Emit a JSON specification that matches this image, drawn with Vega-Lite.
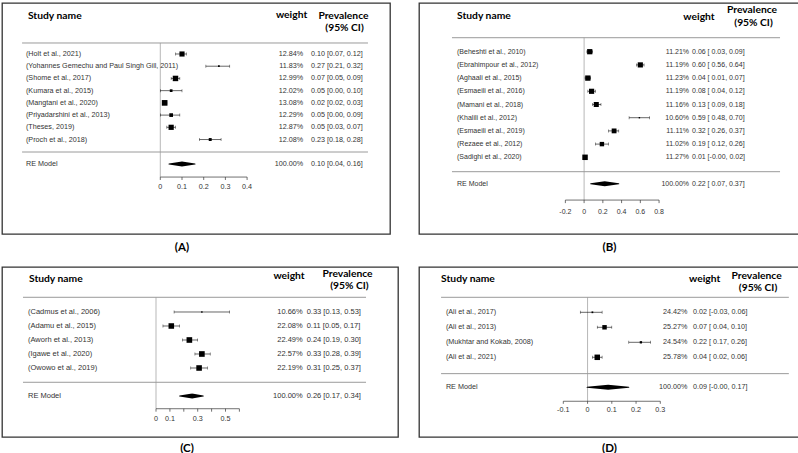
{
"$schema": "https://vega.github.io/schema/vega-lite/v6.json",
"background": "white",
"padding": {"left": 1, "top": 2, "right": 0, "bottom": 0},
"config": {"view": {"stroke": "#333", "strokeWidth": 1.3}, "axis": {"disable": true}},
"spacing": 11,
"vconcat": [
{"hconcat": [
{
"width": 388, "height": 231,
"title": {"text": "(A)", "orient": "bottom", "anchor": "middle", "dx": -14, "offset": 8, "font": "Lato", "fontSize": 11.5, "fontWeight": "bold", "color": "#000"},
"data": {"values": [
{"kind": "study", "row": 1, "study": "(Holt et al., 2021)", "w": 12.84, "weight": "12.84%", "est": 0.10, "lb": 0.07, "ub": 0.12, "ci": "0.10 [0.07, 0.12]"},
{"kind": "study", "row": 2, "study": "(Yohannes Gemechu and Paul Singh Gill, 2011)", "w": 11.83, "weight": "11.83%", "est": 0.27, "lb": 0.21, "ub": 0.32, "ci": "0.27 [0.21, 0.32]"},
{"kind": "study", "row": 3, "study": "(Shome et al., 2017)", "w": 12.99, "weight": "12.99%", "est": 0.07, "lb": 0.05, "ub": 0.09, "ci": "0.07 [0.05, 0.09]"},
{"kind": "study", "row": 4, "study": "(Kumara et al., 2015)", "w": 12.02, "weight": "12.02%", "est": 0.05, "lb": 0.00, "ub": 0.10, "ci": "0.05 [0.00, 0.10]"},
{"kind": "study", "row": 5, "study": "(Mangtani et al., 2020)", "w": 13.08, "weight": "13.08%", "est": 0.02, "lb": 0.02, "ub": 0.03, "ci": "0.02 [0.02, 0.03]"},
{"kind": "study", "row": 6, "study": "(Priyadarshini et al., 2013)", "w": 12.29, "weight": "12.29%", "est": 0.05, "lb": 0.00, "ub": 0.09, "ci": "0.05 [0.00, 0.09]"},
{"kind": "study", "row": 7, "study": "(Theses, 2019)", "w": 12.87, "weight": "12.87%", "est": 0.05, "lb": 0.03, "ub": 0.07, "ci": "0.05 [0.03, 0.07]"},
{"kind": "study", "row": 8, "study": "(Proch et al., 2018)", "w": 12.08, "weight": "12.08%", "est": 0.23, "lb": 0.18, "ub": 0.28, "ci": "0.23 [0.18, 0.28]"},
{"kind": "re", "row": 10, "study": "RE Model", "w": 100, "weight": "100.00%", "est": 0.10, "lb": 0.04, "ub": 0.16, "ci": "0.10 [0.04, 0.16]"}
]},
"resolve": {"scale": {"size": "independent"}},
"layer": [
{"data": {"values": [{"a": 1}]}, "mark": {"type": "rule", "color": "#9a9a9a", "strokeWidth": 1},
 "encoding": {"x": {"datum": -0.637, "type": "quantitative", "scale": {"domain": [-0.7295, 1.0585], "nice": false, "zero": false}, "axis": null},
  "x2": {"datum": 0.957},
  "y": {"datum": 0.10, "type": "quantitative", "scale": {"domain": [-3.173, 15.73], "nice": false, "zero": false, "reverse": true}, "axis": null}}},
{"data": {"values": [{"a": 1}]}, "mark": {"type": "rule", "color": "#9a9a9a", "strokeWidth": 1},
 "encoding": {"x": {"datum": -0.637}, "x2": {"datum": 0.957}, "y": {"datum": 9.02}}},
{"data": {"values": [{"a": 1}]}, "mark": {"type": "rule", "color": "#999999", "strokeWidth": 0.7},
 "encoding": {"x": {"datum": 0}, "y": {"datum": 0.10}, "y2": {"datum": 11.07}}},
{"transform": [{"filter": "datum.kind == 'study'"}], "mark": {"type": "rule", "color": "#000", "strokeWidth": 0.6},
 "encoding": {"x": {"field": "lb", "type": "quantitative"}, "x2": {"field": "ub"}, "y": {"field": "row", "type": "quantitative"}}},
{"transform": [{"filter": "datum.kind == 'study'"}], "mark": {"type": "tick", "orient": "vertical", "size": 3, "thickness": 0.6, "color": "#000"},
 "encoding": {"x": {"field": "lb", "type": "quantitative"}, "y": {"field": "row", "type": "quantitative"}}},
{"transform": [{"filter": "datum.kind == 'study'"}], "mark": {"type": "tick", "orient": "vertical", "size": 3, "thickness": 0.6, "color": "#000"},
 "encoding": {"x": {"field": "ub", "type": "quantitative"}, "y": {"field": "row", "type": "quantitative"}}},
{"transform": [{"filter": "datum.kind == 'study'"}], "mark": {"type": "square", "filled": true, "opacity": 1, "color": "#000"},
 "encoding": {"x": {"field": "est", "type": "quantitative"}, "y": {"field": "row", "type": "quantitative"},
  "size": {"field": "w", "type": "quantitative", "scale": {"domain": [11.83, 13.08], "range": [3, 32], "zero": false}, "legend": null}}},
{"transform": [{"filter": "datum.kind == 're'"}, {"fold": ["lb", "est", "ub"], "as": ["part", "value"]}], "mark": {"type": "trail", "color": "#000"},
 "encoding": {"x": {"field": "value", "type": "quantitative"}, "y": {"field": "row", "type": "quantitative"},
  "size": {"field": "value", "type": "quantitative", "scale": {"domain": [0.04, 0.10, 0.16], "range": [0, 5, 0], "zero": false}, "legend": null}}},
{"mark": {"type": "text", "align": "left", "baseline": "middle", "font": "Liberation Sans", "fontSize": 7.2, "color": "#333"},
 "encoding": {"x": {"datum": -0.619}, "y": {"field": "row", "type": "quantitative"}, "text": {"field": "study"}}},
{"mark": {"type": "text", "align": "right", "baseline": "middle", "font": "Liberation Sans", "fontSize": 7.2, "color": "#333"},
 "encoding": {"x": {"datum": 0.658}, "y": {"field": "row", "type": "quantitative"}, "text": {"field": "weight"}}},
{"mark": {"type": "text", "align": "left", "baseline": "middle", "font": "Liberation Sans", "fontSize": 7.2, "color": "#333"},
 "encoding": {"x": {"datum": 0.694}, "y": {"field": "row", "type": "quantitative"}, "text": {"field": "ci"}}},
{"data": {"values": [{"a": 1}]}, "mark": {"type": "rule", "color": "#333", "strokeWidth": 0.7},
 "encoding": {"x": {"datum": 0}, "x2": {"datum": 0.4}, "y": {"datum": 11.07}}},
{"data": {"values": [{"t": 0, "lab": "0"}, {"t": 0.1, "lab": "0.1"}, {"t": 0.2, "lab": "0.2"}, {"t": 0.3, "lab": "0.3"}, {"t": 0.4, "lab": "0.4"}]},
 "mark": {"type": "rule", "color": "#333", "strokeWidth": 0.7},
 "encoding": {"x": {"field": "t", "type": "quantitative"}, "y": {"datum": 11.07}, "y2": {"datum": 11.31}}},
{"data": {"values": [{"t": 0, "lab": "0"}, {"t": 0.1, "lab": "0.1"}, {"t": 0.2, "lab": "0.2"}, {"t": 0.3, "lab": "0.3"}, {"t": 0.4, "lab": "0.4"}]},
 "mark": {"type": "text", "align": "center", "baseline": "middle", "font": "Liberation Sans", "fontSize": 7.2, "color": "#333"},
 "encoding": {"x": {"field": "t", "type": "quantitative"}, "y": {"datum": 11.88}, "text": {"field": "lab"}}},
{"data": {"values": [{"t": "Study name"}]}, "mark": {"type": "text", "align": "left", "baseline": "middle", "font": "Lato", "fontSize": 10.3, "fontWeight": "bold", "color": "#000"},
 "encoding": {"x": {"datum": -0.610}, "y": {"datum": -2.11}, "text": {"field": "t"}}},
{"data": {"values": [{"t": "weight"}]}, "mark": {"type": "text", "align": "center", "baseline": "middle", "font": "Lato", "fontSize": 10.3, "fontWeight": "bold", "color": "#000"},
 "encoding": {"x": {"datum": 0.605}, "y": {"datum": -2.19}, "text": {"field": "t"}}},
{"data": {"values": [{"t": "Prevalence"}]}, "mark": {"type": "text", "align": "center", "baseline": "middle", "font": "Lato", "fontSize": 10.3, "fontWeight": "bold", "color": "#000"},
 "encoding": {"x": {"datum": 0.844}, "y": {"datum": -2.11}, "text": {"field": "t"}}},
{"data": {"values": [{"t": "(95% CI)"}]}, "mark": {"type": "text", "align": "center", "baseline": "middle", "font": "Lato", "fontSize": 10.3, "fontWeight": "bold", "color": "#000"},
 "encoding": {"x": {"datum": 0.849}, "y": {"datum": -1.13}, "text": {"field": "t"}}}
]
},
{
"width": 381, "height": 231,
"title": {"text": "(B)", "orient": "bottom", "anchor": "middle", "dx": 0, "offset": 8, "font": "Lato", "fontSize": 11.5, "fontWeight": "bold", "color": "#000"},
"data": {"values": [
{"kind": "study", "row": 1, "study": "(Beheshti et al., 2010)", "w": 11.21, "weight": "11.21%", "est": 0.06, "lb": 0.03, "ub": 0.09, "ci": "0.06 [ 0.03, 0.09]"},
{"kind": "study", "row": 2, "study": "(Ebrahimpour et al., 2012)", "w": 11.19, "weight": "11.19%", "est": 0.60, "lb": 0.56, "ub": 0.64, "ci": "0.60 [ 0.56, 0.64]"},
{"kind": "study", "row": 3, "study": "(Aghaali et al., 2015)", "w": 11.23, "weight": "11.23%", "est": 0.04, "lb": 0.01, "ub": 0.07, "ci": "0.04 [ 0.01, 0.07]"},
{"kind": "study", "row": 4, "study": "(Esmaeili et al., 2016)", "w": 11.19, "weight": "11.19%", "est": 0.08, "lb": 0.04, "ub": 0.12, "ci": "0.08 [ 0.04, 0.12]"},
{"kind": "study", "row": 5, "study": "(Mamani et al., 2018)", "w": 11.16, "weight": "11.16%", "est": 0.13, "lb": 0.09, "ub": 0.18, "ci": "0.13 [ 0.09, 0.18]"},
{"kind": "study", "row": 6, "study": "(Khalili et al., 2012)", "w": 10.60, "weight": "10.60%", "est": 0.59, "lb": 0.48, "ub": 0.70, "ci": "0.59 [ 0.48, 0.70]"},
{"kind": "study", "row": 7, "study": "(Esmaeili et al., 2019)", "w": 11.11, "weight": "11.11%", "est": 0.32, "lb": 0.26, "ub": 0.37, "ci": "0.32 [ 0.26, 0.37]"},
{"kind": "study", "row": 8, "study": "(Rezaee et al., 2012)", "w": 11.02, "weight": "11.02%", "est": 0.19, "lb": 0.12, "ub": 0.26, "ci": "0.19 [ 0.12, 0.26]"},
{"kind": "study", "row": 9, "study": "(Sadighi et al., 2020)", "w": 11.27, "weight": "11.27%", "est": 0.01, "lb": -0.002, "ub": 0.02, "ci": "0.01 [-0.00, 0.02]"},
{"kind": "re", "row": 11, "study": "RE Model", "w": 100, "weight": "100.00%", "est": 0.22, "lb": 0.07, "ub": 0.37, "ci": "0.22 [ 0.07, 0.37]"}
]},
"resolve": {"scale": {"size": "independent"}},
"layer": [
{"data": {"values": [{"a": 1}]}, "mark": {"type": "rule", "color": "#9a9a9a", "strokeWidth": 1},
 "encoding": {"x": {"datum": -1.410, "type": "quantitative", "scale": {"domain": [-1.762, 2.304], "nice": false, "zero": false}, "axis": null},
  "x2": {"datum": 2.091},
  "y": {"datum": -0.06, "type": "quantitative", "scale": {"domain": [-2.689, 14.81], "nice": false, "zero": false, "reverse": true}, "axis": null}}},
{"data": {"values": [{"a": 1}]}, "mark": {"type": "rule", "color": "#9a9a9a", "strokeWidth": 1},
 "encoding": {"x": {"datum": -1.410}, "x2": {"datum": 2.091}, "y": {"datum": 10.09}}},
{"data": {"values": [{"a": 1}]}, "mark": {"type": "rule", "color": "#999999", "strokeWidth": 0.7},
 "encoding": {"x": {"datum": 0}, "y": {"datum": -0.06}, "y2": {"datum": 12.24}}},
{"transform": [{"filter": "datum.kind == 'study'"}], "mark": {"type": "rule", "color": "#000", "strokeWidth": 0.6},
 "encoding": {"x": {"field": "lb", "type": "quantitative"}, "x2": {"field": "ub"}, "y": {"field": "row", "type": "quantitative"}}},
{"transform": [{"filter": "datum.kind == 'study'"}], "mark": {"type": "tick", "orient": "vertical", "size": 3, "thickness": 0.6, "color": "#000"},
 "encoding": {"x": {"field": "lb", "type": "quantitative"}, "y": {"field": "row", "type": "quantitative"}}},
{"transform": [{"filter": "datum.kind == 'study'"}], "mark": {"type": "tick", "orient": "vertical", "size": 3, "thickness": 0.6, "color": "#000"},
 "encoding": {"x": {"field": "ub", "type": "quantitative"}, "y": {"field": "row", "type": "quantitative"}}},
{"transform": [{"filter": "datum.kind == 'study'"}], "mark": {"type": "square", "filled": true, "opacity": 1, "color": "#000"},
 "encoding": {"x": {"field": "est", "type": "quantitative"}, "y": {"field": "row", "type": "quantitative"},
  "size": {"field": "w", "type": "quantitative", "scale": {"domain": [10.60, 11.27], "range": [2, 30], "zero": false}, "legend": null}}},
{"transform": [{"filter": "datum.kind == 're'"}, {"fold": ["lb", "est", "ub"], "as": ["part", "value"]}], "mark": {"type": "trail", "color": "#000"},
 "encoding": {"x": {"field": "value", "type": "quantitative"}, "y": {"field": "row", "type": "quantitative"},
  "size": {"field": "value", "type": "quantitative", "scale": {"domain": [0.07, 0.22, 0.37], "range": [0, 5, 0], "zero": false}, "legend": null}}},
{"mark": {"type": "text", "align": "left", "baseline": "middle", "font": "Liberation Sans", "fontSize": 7, "color": "#333"},
 "encoding": {"x": {"datum": -1.356}, "y": {"field": "row", "type": "quantitative"}, "text": {"field": "study"}}},
{"mark": {"type": "text", "align": "right", "baseline": "middle", "font": "Liberation Sans", "fontSize": 7, "color": "#333"},
 "encoding": {"x": {"datum": 1.120}, "y": {"field": "row", "type": "quantitative"}, "text": {"field": "weight"}}},
{"mark": {"type": "text", "align": "left", "baseline": "middle", "font": "Liberation Sans", "fontSize": 7, "color": "#333"},
 "encoding": {"x": {"datum": 1.152}, "y": {"field": "row", "type": "quantitative"}, "text": {"field": "ci"}}},
{"data": {"values": [{"a": 1}]}, "mark": {"type": "rule", "color": "#333", "strokeWidth": 0.7},
 "encoding": {"x": {"datum": -0.2}, "x2": {"datum": 0.8}, "y": {"datum": 12.24}}},
{"data": {"values": [{"t": -0.2, "lab": "-0.2"}, {"t": 0, "lab": "0"}, {"t": 0.2, "lab": "0.2"}, {"t": 0.4, "lab": "0.4"}, {"t": 0.6, "lab": "0.6"}, {"t": 0.8, "lab": "0.8"}]},
 "mark": {"type": "rule", "color": "#333", "strokeWidth": 0.7},
 "encoding": {"x": {"field": "t", "type": "quantitative"}, "y": {"datum": 12.24}, "y2": {"datum": 12.47}}},
{"data": {"values": [{"t": -0.2, "lab": "-0.2"}, {"t": 0, "lab": "0"}, {"t": 0.2, "lab": "0.2"}, {"t": 0.4, "lab": "0.4"}, {"t": 0.6, "lab": "0.6"}, {"t": 0.8, "lab": "0.8"}]},
 "mark": {"type": "text", "align": "center", "baseline": "middle", "font": "Liberation Sans", "fontSize": 7, "color": "#333"},
 "encoding": {"x": {"field": "t", "type": "quantitative"}, "y": {"datum": 13.12}, "text": {"field": "lab"}}},
{"data": {"values": [{"t": "Study name"}]}, "mark": {"type": "text", "align": "left", "baseline": "middle", "font": "Lato", "fontSize": 10.3, "fontWeight": "bold", "color": "#000"},
 "encoding": {"x": {"datum": -1.356}, "y": {"datum": -1.70}, "text": {"field": "t"}}},
{"data": {"values": [{"t": "weight"}]}, "mark": {"type": "text", "align": "center", "baseline": "middle", "font": "Lato", "fontSize": 10.3, "fontWeight": "bold", "color": "#000"},
 "encoding": {"x": {"datum": 1.226}, "y": {"datum": -1.63}, "text": {"field": "t"}}},
{"data": {"values": [{"t": "Prevalence"}]}, "mark": {"type": "text", "align": "center", "baseline": "middle", "font": "Lato", "fontSize": 10.3, "fontWeight": "bold", "color": "#000"},
 "encoding": {"x": {"datum": 1.792}, "y": {"datum": -2.16}, "text": {"field": "t"}}},
{"data": {"values": [{"t": "(95% CI)"}]}, "mark": {"type": "text", "align": "center", "baseline": "middle", "font": "Lato", "fontSize": 10.3, "fontWeight": "bold", "color": "#000"},
 "encoding": {"x": {"datum": 1.808}, "y": {"datum": -1.20}, "text": {"field": "t"}}}
]
}
], "spacing": 27},
{"hconcat": [
{
"width": 396, "height": 170,
"title": {"text": "(C)", "orient": "bottom", "anchor": "middle", "dx": -13, "offset": 6, "font": "Lato", "fontSize": 11.5, "fontWeight": "bold", "color": "#000"},
"data": {"values": [
{"kind": "study", "row": 1, "study": "(Cadmus et al., 2006)", "w": 10.66, "weight": "10.66%", "est": 0.33, "lb": 0.13, "ub": 0.53, "ci": "0.33 [0.13, 0.53]"},
{"kind": "study", "row": 2, "study": "(Adamu et al., 2015)", "w": 22.08, "weight": "22.08%", "est": 0.11, "lb": 0.05, "ub": 0.17, "ci": "0.11 [0.05, 0.17]"},
{"kind": "study", "row": 3, "study": "(Aworh et al., 2013)", "w": 22.49, "weight": "22.49%", "est": 0.24, "lb": 0.19, "ub": 0.30, "ci": "0.24 [0.19, 0.30]"},
{"kind": "study", "row": 4, "study": "(Igawe et al., 2020)", "w": 22.57, "weight": "22.57%", "est": 0.33, "lb": 0.28, "ub": 0.39, "ci": "0.33 [0.28, 0.39]"},
{"kind": "study", "row": 5, "study": "(Owowo et al., 2019)", "w": 22.19, "weight": "22.19%", "est": 0.31, "lb": 0.25, "ub": 0.37, "ci": "0.31 [0.25, 0.37]"},
{"kind": "re", "row": 7, "study": "RE Model", "w": 100, "weight": "100.00%", "est": 0.26, "lb": 0.17, "ub": 0.34, "ci": "0.26 [0.17, 0.34]"}
]},
"resolve": {"scale": {"size": "independent"}},
"layer": [
{"data": {"values": [{"a": 1}]}, "mark": {"type": "rule", "color": "#9a9a9a", "strokeWidth": 1},
 "encoding": {"x": {"datum": -0.957, "type": "quantitative", "scale": {"domain": [-1.108, 1.741], "nice": false, "zero": false}, "axis": null},
  "x2": {"datum": 1.511},
  "y": {"datum": -0.05, "type": "quantitative", "scale": {"domain": [-2.214, 9.929], "nice": false, "zero": false, "reverse": true}, "axis": null}}},
{"data": {"values": [{"a": 1}]}, "mark": {"type": "rule", "color": "#9a9a9a", "strokeWidth": 1},
 "encoding": {"x": {"datum": -0.957}, "x2": {"datum": 1.511}, "y": {"datum": 6.02}}},
{"data": {"values": [{"a": 1}]}, "mark": {"type": "rule", "color": "#999999", "strokeWidth": 0.7},
 "encoding": {"x": {"datum": 0}, "y": {"datum": -0.05}, "y2": {"datum": 7.91}}},
{"transform": [{"filter": "datum.kind == 'study'"}], "mark": {"type": "rule", "color": "#000", "strokeWidth": 0.6},
 "encoding": {"x": {"field": "lb", "type": "quantitative"}, "x2": {"field": "ub"}, "y": {"field": "row", "type": "quantitative"}}},
{"transform": [{"filter": "datum.kind == 'study'"}], "mark": {"type": "tick", "orient": "vertical", "size": 3, "thickness": 0.6, "color": "#000"},
 "encoding": {"x": {"field": "lb", "type": "quantitative"}, "y": {"field": "row", "type": "quantitative"}}},
{"transform": [{"filter": "datum.kind == 'study'"}], "mark": {"type": "tick", "orient": "vertical", "size": 3, "thickness": 0.6, "color": "#000"},
 "encoding": {"x": {"field": "ub", "type": "quantitative"}, "y": {"field": "row", "type": "quantitative"}}},
{"transform": [{"filter": "datum.kind == 'study'"}], "mark": {"type": "square", "filled": true, "opacity": 1, "color": "#000"},
 "encoding": {"x": {"field": "est", "type": "quantitative"}, "y": {"field": "row", "type": "quantitative"},
  "size": {"field": "w", "type": "quantitative", "scale": {"domain": [10.66, 22.57], "range": [2, 32], "zero": false}, "legend": null}}},
{"transform": [{"filter": "datum.kind == 're'"}, {"fold": ["lb", "est", "ub"], "as": ["part", "value"]}], "mark": {"type": "trail", "color": "#000"},
 "encoding": {"x": {"field": "value", "type": "quantitative"}, "y": {"field": "row", "type": "quantitative"},
  "size": {"field": "value", "type": "quantitative", "scale": {"domain": [0.17, 0.26, 0.34], "range": [0, 5, 0], "zero": false}, "legend": null}}},
{"mark": {"type": "text", "align": "left", "baseline": "middle", "font": "Liberation Sans", "fontSize": 7.5, "color": "#333"},
 "encoding": {"x": {"datum": -0.921}, "y": {"field": "row", "type": "quantitative"}, "text": {"field": "study"}}},
{"mark": {"type": "text", "align": "right", "baseline": "middle", "font": "Liberation Sans", "fontSize": 7.5, "color": "#333"},
 "encoding": {"x": {"datum": 1.055}, "y": {"field": "row", "type": "quantitative"}, "text": {"field": "weight"}}},
{"mark": {"type": "text", "align": "left", "baseline": "middle", "font": "Liberation Sans", "fontSize": 7.5, "color": "#333"},
 "encoding": {"x": {"datum": 1.084}, "y": {"field": "row", "type": "quantitative"}, "text": {"field": "ci"}}},
{"data": {"values": [{"a": 1}]}, "mark": {"type": "rule", "color": "#333", "strokeWidth": 0.7},
 "encoding": {"x": {"datum": 0}, "x2": {"datum": 0.6}, "y": {"datum": 7.91}}},
{"data": {"values": [{"t": 0, "lab": "0"}, {"t": 0.1, "lab": "0.1"}, {"t": 0.2, "lab": ""}, {"t": 0.3, "lab": "0.3"}, {"t": 0.4, "lab": ""}, {"t": 0.5, "lab": "0.5"}, {"t": 0.6, "lab": ""}]},
 "mark": {"type": "rule", "color": "#333", "strokeWidth": 0.7},
 "encoding": {"x": {"field": "t", "type": "quantitative"}, "y": {"datum": 7.91}, "y2": {"datum": 8.12}}},
{"data": {"values": [{"t": 0, "lab": "0"}, {"t": 0.1, "lab": "0.1"}, {"t": 0.2, "lab": ""}, {"t": 0.3, "lab": "0.3"}, {"t": 0.4, "lab": ""}, {"t": 0.5, "lab": "0.5"}, {"t": 0.6, "lab": ""}]},
 "mark": {"type": "text", "align": "center", "baseline": "middle", "font": "Liberation Sans", "fontSize": 7.2, "color": "#333"},
 "encoding": {"x": {"field": "t", "type": "quantitative"}, "y": {"datum": 8.62}, "text": {"field": "lab"}}},
{"data": {"values": [{"t": "Study name"}]}, "mark": {"type": "text", "align": "left", "baseline": "middle", "font": "Lato", "fontSize": 10.3, "fontWeight": "bold", "color": "#000"},
 "encoding": {"x": {"datum": -0.914}, "y": {"datum": -1.38}, "text": {"field": "t"}}},
{"data": {"values": [{"t": "weight"}]}, "mark": {"type": "text", "align": "center", "baseline": "middle", "font": "Lato", "fontSize": 10.3, "fontWeight": "bold", "color": "#000"},
 "encoding": {"x": {"datum": 0.957}, "y": {"datum": -1.55}, "text": {"field": "t"}}},
{"data": {"values": [{"t": "Prevalence"}]}, "mark": {"type": "text", "align": "center", "baseline": "middle", "font": "Lato", "fontSize": 10.3, "fontWeight": "bold", "color": "#000"},
 "encoding": {"x": {"datum": 1.378}, "y": {"datum": -1.71}, "text": {"field": "t"}}},
{"data": {"values": [{"t": "(95% CI)"}]}, "mark": {"type": "text", "align": "center", "baseline": "middle", "font": "Lato", "fontSize": 10.3, "fontWeight": "bold", "color": "#000"},
 "encoding": {"x": {"datum": 1.392}, "y": {"datum": -0.835}, "text": {"field": "t"}}}
]
},
{
"width": 381, "height": 170,
"title": {"text": "(D)", "orient": "bottom", "anchor": "middle", "dx": 0, "offset": 6, "font": "Lato", "fontSize": 11.5, "fontWeight": "bold", "color": "#000"},
"data": {"values": [
{"kind": "study", "row": 1, "study": "(Ali et al., 2017)", "w": 24.42, "weight": "24.42%", "est": 0.02, "lb": -0.03, "ub": 0.06, "ci": "0.02 [-0.03, 0.06]"},
{"kind": "study", "row": 2, "study": "(Ali et al., 2013)", "w": 25.27, "weight": "25.27%", "est": 0.07, "lb": 0.04, "ub": 0.10, "ci": "0.07 [ 0.04, 0.10]"},
{"kind": "study", "row": 3, "study": "(Mukhtar and Kokab, 2008)", "w": 24.54, "weight": "24.54%", "est": 0.22, "lb": 0.17, "ub": 0.26, "ci": "0.22 [ 0.17, 0.26]"},
{"kind": "study", "row": 4, "study": "(Ali et al., 2021)", "w": 25.78, "weight": "25.78%", "est": 0.04, "lb": 0.02, "ub": 0.06, "ci": "0.04 [ 0.02, 0.06]"},
{"kind": "re", "row": 6, "study": "RE Model", "w": 100, "weight": "100.00%", "est": 0.085, "lb": -0.002, "ub": 0.17, "ci": "0.09 [-0.00, 0.17]"}
]},
"resolve": {"scale": {"size": "independent"}},
"layer": [
{"data": {"values": [{"a": 1}]}, "mark": {"type": "rule", "color": "#9a9a9a", "strokeWidth": 1},
 "encoding": {"x": {"datum": -0.604, "type": "quantitative", "scale": {"domain": [-0.695, 0.876], "nice": false, "zero": false}, "axis": null},
  "x2": {"datum": 0.830},
  "y": {"datum": 0.0, "type": "quantitative", "scale": {"domain": [-2.02, 9.313], "nice": false, "zero": false, "reverse": true}, "axis": null}}},
{"data": {"values": [{"a": 1}]}, "mark": {"type": "rule", "color": "#9a9a9a", "strokeWidth": 1},
 "encoding": {"x": {"datum": -0.604}, "x2": {"datum": 0.830}, "y": {"datum": 5.09}}},
{"data": {"values": [{"a": 1}]}, "mark": {"type": "rule", "color": "#999999", "strokeWidth": 0.7},
 "encoding": {"x": {"datum": 0}, "y": {"datum": 0.0}, "y2": {"datum": 6.93}}},
{"transform": [{"filter": "datum.kind == 'study'"}], "mark": {"type": "rule", "color": "#000", "strokeWidth": 0.6},
 "encoding": {"x": {"field": "lb", "type": "quantitative"}, "x2": {"field": "ub"}, "y": {"field": "row", "type": "quantitative"}}},
{"transform": [{"filter": "datum.kind == 'study'"}], "mark": {"type": "tick", "orient": "vertical", "size": 3, "thickness": 0.6, "color": "#000"},
 "encoding": {"x": {"field": "lb", "type": "quantitative"}, "y": {"field": "row", "type": "quantitative"}}},
{"transform": [{"filter": "datum.kind == 'study'"}], "mark": {"type": "tick", "orient": "vertical", "size": 3, "thickness": 0.6, "color": "#000"},
 "encoding": {"x": {"field": "ub", "type": "quantitative"}, "y": {"field": "row", "type": "quantitative"}}},
{"transform": [{"filter": "datum.kind == 'study'"}], "mark": {"type": "square", "filled": true, "opacity": 1, "color": "#000"},
 "encoding": {"x": {"field": "est", "type": "quantitative"}, "y": {"field": "row", "type": "quantitative"},
  "size": {"field": "w", "type": "quantitative", "scale": {"domain": [24.42, 25.78], "range": [3, 30], "zero": false}, "legend": null}}},
{"transform": [{"filter": "datum.kind == 're'"}, {"fold": ["lb", "est", "ub"], "as": ["part", "value"]}], "mark": {"type": "trail", "color": "#000"},
 "encoding": {"x": {"field": "value", "type": "quantitative"}, "y": {"field": "row", "type": "quantitative"},
  "size": {"field": "value", "type": "quantitative", "scale": {"domain": [-0.002, 0.085, 0.17], "range": [0, 5, 0], "zero": false}, "legend": null}}},
{"mark": {"type": "text", "align": "left", "baseline": "middle", "font": "Liberation Sans", "fontSize": 7.2, "color": "#333"},
 "encoding": {"x": {"datum": -0.584}, "y": {"field": "row", "type": "quantitative"}, "text": {"field": "study"}}},
{"mark": {"type": "text", "align": "right", "baseline": "middle", "font": "Liberation Sans", "fontSize": 7.2, "color": "#333"},
 "encoding": {"x": {"datum": 0.412}, "y": {"field": "row", "type": "quantitative"}, "text": {"field": "weight"}}},
{"mark": {"type": "text", "align": "left", "baseline": "middle", "font": "Liberation Sans", "fontSize": 7.2, "color": "#333"},
 "encoding": {"x": {"datum": 0.435}, "y": {"field": "row", "type": "quantitative"}, "text": {"field": "ci"}}},
{"data": {"values": [{"a": 1}]}, "mark": {"type": "rule", "color": "#333", "strokeWidth": 0.7},
 "encoding": {"x": {"datum": -0.1}, "x2": {"datum": 0.3}, "y": {"datum": 6.93}}},
{"data": {"values": [{"t": -0.1, "lab": "-0.1"}, {"t": 0, "lab": "0"}, {"t": 0.1, "lab": "0.1"}, {"t": 0.2, "lab": "0.2"}, {"t": 0.3, "lab": "0.3"}]},
 "mark": {"type": "rule", "color": "#333", "strokeWidth": 0.7},
 "encoding": {"x": {"field": "t", "type": "quantitative"}, "y": {"datum": 6.93}, "y2": {"datum": 7.10}}},
{"data": {"values": [{"t": -0.1, "lab": "-0.1"}, {"t": 0, "lab": "0"}, {"t": 0.1, "lab": "0.1"}, {"t": 0.2, "lab": "0.2"}, {"t": 0.3, "lab": "0.3"}]},
 "mark": {"type": "text", "align": "center", "baseline": "middle", "font": "Liberation Sans", "fontSize": 7.2, "color": "#333"},
 "encoding": {"x": {"field": "t", "type": "quantitative"}, "y": {"datum": 7.53}, "text": {"field": "lab"}}},
{"data": {"values": [{"t": "Study name"}]}, "mark": {"type": "text", "align": "left", "baseline": "middle", "font": "Lato", "fontSize": 10.3, "fontWeight": "bold", "color": "#000"},
 "encoding": {"x": {"datum": -0.604}, "y": {"datum": -1.22}, "text": {"field": "t"}}},
{"data": {"values": [{"t": "weight"}]}, "mark": {"type": "text", "align": "center", "baseline": "middle", "font": "Lato", "fontSize": 10.3, "fontWeight": "bold", "color": "#000"},
 "encoding": {"x": {"datum": 0.483}, "y": {"datum": -1.22}, "text": {"field": "t"}}},
{"data": {"values": [{"t": "Prevalence"}]}, "mark": {"type": "text", "align": "center", "baseline": "middle", "font": "Lato", "fontSize": 10.3, "fontWeight": "bold", "color": "#000"},
 "encoding": {"x": {"datum": 0.697}, "y": {"datum": -1.44}, "text": {"field": "t"}}},
{"data": {"values": [{"t": "(95% CI)"}]}, "mark": {"type": "text", "align": "center", "baseline": "middle", "font": "Lato", "fontSize": 10.3, "fontWeight": "bold", "color": "#000"},
 "encoding": {"x": {"datum": 0.703}, "y": {"datum": -0.60}, "text": {"field": "t"}}}
]
}
], "spacing": 19}
]
}
